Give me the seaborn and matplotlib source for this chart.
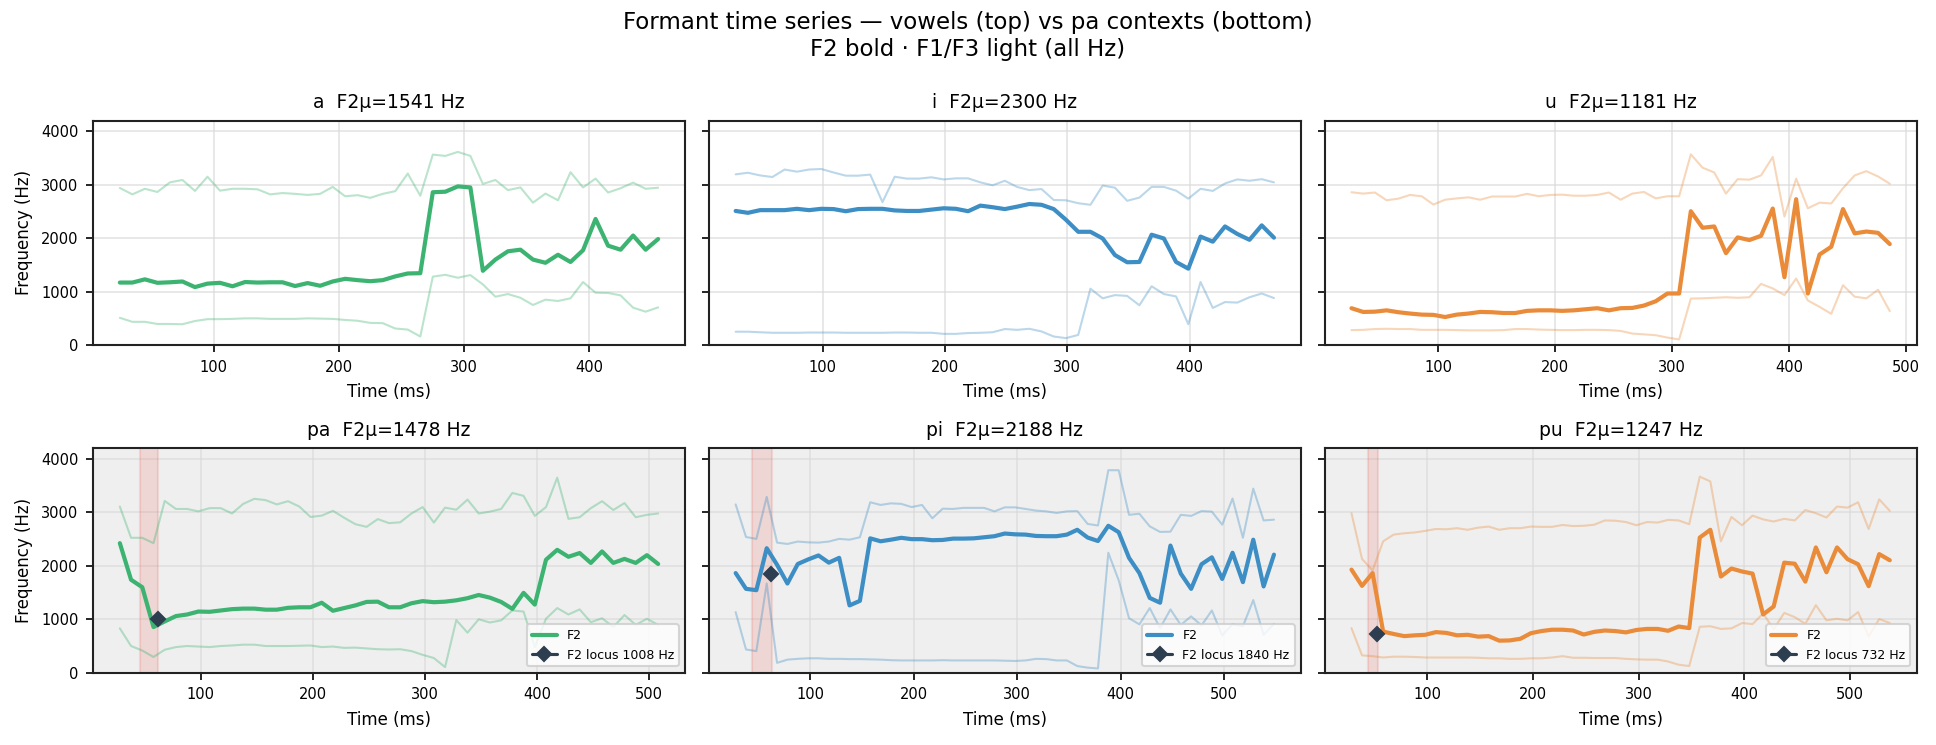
import numpy as np
import matplotlib
matplotlib.use("Agg")
import matplotlib.pyplot as plt
import seaborn as sns

# ---- data (Hz), one frame every 10 ms ----
frame_ms = 10

labels = ["a", "i", "u", "pa", "pi", "pu"]
start_ms = [25, 29, 26, 28, 28, 28]
f2_means = [1541, 2300, 1181, 1478, 2188, 1247]

a_f1 = [510, 435, 435, 395, 395, 390, 450, 485, 485, 490, 500, 500, 490, 490, 490, 500, 495, 490, 470, 455,
        415, 410, 310, 290, 160, 1280, 1315, 1260, 1310, 1135, 905, 955, 885, 750, 850, 825, 875, 1180, 980, 975,
        930, 700, 625, 705]
a_f2 = [1170, 1170, 1230, 1165, 1175, 1190, 1085, 1150, 1165, 1100, 1180, 1170, 1175, 1175, 1105, 1160, 1110, 1190,
        1240, 1215, 1195, 1215, 1285, 1340, 1345, 2860, 2870, 2970, 2950, 1390, 1600, 1755, 1785, 1600, 1540, 1690,
        1555, 1775, 2360, 1860, 1785, 2050, 1785, 1985]
a_f3 = [2940, 2820, 2925, 2865, 3045, 3090, 2885, 3150, 2890, 2925, 2925, 2915, 2820, 2845, 2830, 2810, 2830, 2960,
        2785, 2805, 2755, 2830, 2880, 3210, 2795, 3565, 3540, 3615, 3540, 3015, 3090, 2900, 2950, 2665, 2835, 2710,
        3235, 2950, 3115, 2855, 2935, 3040, 2925, 2945]

i_f1 = [250, 250, 240, 230, 230, 230, 235, 235, 235, 230, 230, 230, 230, 235, 235, 230, 230, 210, 210, 225,
        230, 240, 300, 285, 305, 255, 160, 130, 190, 1055, 875, 935, 920, 745, 1100, 955, 910, 390, 1180, 695,
        805, 795, 895, 965, 880]
i_f2 = [2510, 2475, 2525, 2525, 2525, 2550, 2525, 2550, 2545, 2505, 2545, 2550, 2550, 2520, 2510, 2510, 2535, 2560,
        2550, 2505, 2610, 2580, 2545, 2590, 2640, 2625, 2545, 2345, 2120, 2120, 1995, 1685, 1550, 1555, 2065, 1995,
        1555, 1430, 2030, 1935, 2220, 2080, 1970, 2240, 2010]
i_f3 = [3195, 3225, 3175, 3145, 3285, 3245, 3285, 3295, 3230, 3170, 3170, 3190, 2675, 3150, 3115, 3115, 3140, 3100,
        3120, 3120, 3045, 2990, 3075, 2960, 2900, 2920, 2715, 2710, 2655, 2625, 2985, 2945, 2700, 2760, 2960, 2960,
        2890, 2740, 2925, 2885, 3025, 3100, 3075, 3105, 3045]

u_f1 = [280, 285, 300, 305, 300, 300, 285, 285, 285, 280, 275, 275, 275, 280, 300, 300, 290, 285, 280, 280,
        285, 285, 280, 265, 215, 200, 185, 140, 105, 870, 875, 885, 895, 885, 895, 1145, 1060, 935, 1245, 835,
        715, 585, 1120, 905, 875, 1035, 635]
u_f2 = [690, 620, 625, 650, 615, 590, 570, 565, 525, 570, 590, 620, 615, 600, 600, 640, 650, 650, 640, 650,
        670, 690, 650, 690, 695, 740, 820, 965, 965, 2505, 2195, 2220, 1720, 2015, 1965, 2045, 2555, 1270, 2730, 965,
        1695, 1840, 2545, 2090, 2125, 2100, 1890]
u_f3 = [2860, 2835, 2855, 2710, 2740, 2810, 2785, 2630, 2720, 2745, 2765, 2720, 2780, 2780, 2780, 2830, 2785, 2810,
        2815, 2795, 2795, 2810, 2855, 2720, 2835, 2865, 2745, 2785, 2785, 3570, 3320, 3230, 2835, 3105, 3095, 3175,
        3520, 2405, 3115, 2560, 2665, 2650, 2935, 3175, 3255, 3155, 3020]

pa_f1 = [830, 500, 415, 295, 430, 480, 500, 490, 480, 500, 510, 525, 525, 500, 500, 500, 505, 510, 480, 490,
         465, 470, 455, 440, 435, 440, 405, 335, 275, 105, 985, 750, 1000, 940, 980, 1165, 1145, 480, 1010, 1210,
         1090, 1185, 945, 1020, 855, 1080, 895, 1010, 895]
pa_f2 = [2425, 1740, 1600, 855, 960, 1060, 1090, 1145, 1140, 1165, 1190, 1200, 1200, 1180, 1180, 1215, 1225, 1225,
         1310, 1160, 1210, 1260, 1325, 1330, 1225, 1225, 1300, 1340, 1320, 1330, 1355, 1395, 1455, 1405, 1325, 1195,
         1495, 1275, 2115, 2300, 2170, 2240, 2055, 2270, 2055, 2130, 2055, 2200, 2035]
pa_f3 = [3110, 2525, 2525, 2425, 3215, 3065, 3065, 3020, 3080, 3080, 2980, 3160, 3255, 3230, 3150, 3210, 3110, 2915,
         2940, 3030, 2900, 2780, 2730, 2875, 2800, 2815, 2980, 3100, 2810, 3090, 3050, 3240, 2980, 3015, 3065, 3365,
         3310, 2935, 3100, 3650, 2880, 2910, 3080, 3210, 3045, 3175, 2910, 2955, 2980]

pi_f1 = [1135, 435, 405, 1670, 185, 245, 260, 270, 270, 260, 260, 255, 255, 250, 245, 235, 230, 230, 230, 230,
         235, 230, 230, 230, 230, 230, 225, 220, 230, 260, 255, 230, 230, 125, 95, 80, 2245, 1730, 1020, 905,
         1210, 835, 1185, 895, 1055, 885, 1165, 700, 910, 870, 1360, 710, 915]
pi_f2 = [1865, 1570, 1545, 2330, 2020, 1670, 2035, 2120, 2195, 2060, 2150, 1260, 1345, 2515, 2460, 2490, 2525, 2500,
         2500, 2480, 2485, 2510, 2510, 2515, 2535, 2555, 2605, 2590, 2585, 2560, 2555, 2555, 2585, 2675, 2530, 2465,
         2750, 2630, 2150, 1865, 1400, 1310, 2380, 1855, 1570, 2030, 2160, 1755, 2245, 1695, 2490, 1615, 2210]
pi_f3 = [3150, 2540, 2505, 3290, 2435, 2410, 2455, 2440, 2435, 2455, 2505, 2490, 2535, 3190, 3140, 3170, 3160, 3100,
         3140, 2890, 3070, 3065, 3085, 3085, 3085, 3020, 3095, 3095, 3065, 3035, 3020, 2990, 3020, 3025, 2785, 2755,
         3790, 3790, 2955, 2975, 2740, 2635, 2640, 2955, 2935, 3025, 3015, 2770, 3260, 2525, 3445, 2850, 2865]

pu_f1 = [835, 325, 310, 285, 300, 300, 295, 285, 285, 285, 285, 285, 280, 270, 270, 260, 260, 270, 270, 285,
         310, 280, 280, 275, 275, 275, 260, 250, 245, 245, 210, 150, 125, 860, 870, 820, 830, 930, 910, 1110,
         815, 1120, 1040, 915, 1265, 980, 1010, 980, 1135, 680, 1005, 930]
pu_f2 = [1930, 1625, 1865, 770, 725, 685, 700, 710, 760, 745, 700, 710, 675, 685, 600, 605, 635, 740, 780, 805,
         805, 790, 715, 765, 790, 780, 755, 800, 820, 820, 785, 865, 835, 2530, 2675, 1800, 1950, 1895, 1855, 1090,
         1240, 2060, 2040, 1705, 2345, 1880, 2345, 2125, 2030, 1620, 2220, 2105]
pu_f3 = [2985, 2130, 1915, 2460, 2585, 2610, 2625, 2655, 2690, 2685, 2705, 2675, 2715, 2735, 2675, 2705, 2705, 2735,
         2730, 2730, 2765, 2745, 2750, 2770, 2850, 2845, 2820, 2760, 2820, 2810, 2860, 2850, 2780, 3670, 3580, 2460,
         2915, 2760, 2940, 2870, 2830, 2880, 2850, 3045, 2985, 2905, 3110, 3090, 3190, 2690, 3245, 3030]

# consonant release window (ms) and F2 locus for the pa contexts
release_start = [46, 44, 44]
release_end = [62, 63, 53]
locus_ms = [62, 62, 52]
locus_hz = [1008, 1840, 732]

f1_all = [a_f1, i_f1, u_f1, pa_f1, pi_f1, pu_f1]
f2_all = [a_f2, i_f2, u_f2, pa_f2, pi_f2, pu_f2]
f3_all = [a_f3, i_f3, u_f3, pa_f3, pi_f3, pu_f3]

colors = ["#3cb371", "#3d8ec4", "#ea8b3a"]

#------------------------------------------------------
#                      Plot
#------------------------------------------------------
sns.set_style("ticks")
plt.rcParams["font.family"] = ["DejaVu Sans"]
plt.rcParams["text.color"] = "black"
plt.rcParams["axes.labelcolor"] = "black"
plt.rcParams["xtick.color"] = "black"
plt.rcParams["ytick.color"] = "black"

fig, axes = plt.subplots(2, 3, figsize=(12.907, 4.967), dpi=150, sharey=True)
fig.subplots_adjust(left=0.048, right=0.99, top=0.838, bottom=0.097, wspace=0.04, hspace=0.46)

for k, ax in enumerate(axes.flat):
    col = colors[k % 3]
    n = len(f2_all[k])
    t = start_ms[k] + frame_ms * np.arange(n)

    if k >= 3:
        ax.set_facecolor("#efefef")
        j = k - 3
        ax.axvspan(release_start[j], release_end[j], color="#e74c3c", alpha=0.15, zorder=1)

    ax.grid(True, color="#d9d9d9", linewidth=0.8, alpha=0.7, zorder=0)
    ax.set_axisbelow(True)

    sns.lineplot(x=t, y=f1_all[k], ax=ax, color=col, alpha=0.35, linewidth=1.0, estimator=None)
    sns.lineplot(x=t, y=f3_all[k], ax=ax, color=col, alpha=0.35, linewidth=1.0, estimator=None)
    sns.lineplot(x=t, y=f2_all[k], ax=ax, color=col, linewidth=2.0, estimator=None, label="F2" if k >= 3 else None)

    if k >= 3:
        j = k - 3
        ax.plot([locus_ms[j]], [locus_hz[j]], marker="D", color="#2c3e50", markersize=5,
                label=f"F2 locus {locus_hz[j]} Hz", zorder=5)
        ax.legend(loc="lower right", fontsize=6, framealpha=0.8)

    ax.set_ylim(0, 4200)
    ax.set_title(f"{labels[k]}  F2\u03bc={f2_means[k]} Hz", fontsize=9)
    ax.set_xlabel("Time (ms)", fontsize=8)
    ax.set_ylabel("Frequency (Hz)" if k % 3 == 0 else "", fontsize=8)
    ax.tick_params(labelsize=7)
    for s in ax.spines.values():
        s.set_color("#222222")
        s.set_linewidth(1.0)

fig.suptitle("Formant time series \u2014 vowels (top) vs pa contexts (bottom)\nF2 bold \u00b7 F1/F3 light (all Hz)",
             fontsize=11, y=0.985)

plt.savefig("out.png", dpi=150)
